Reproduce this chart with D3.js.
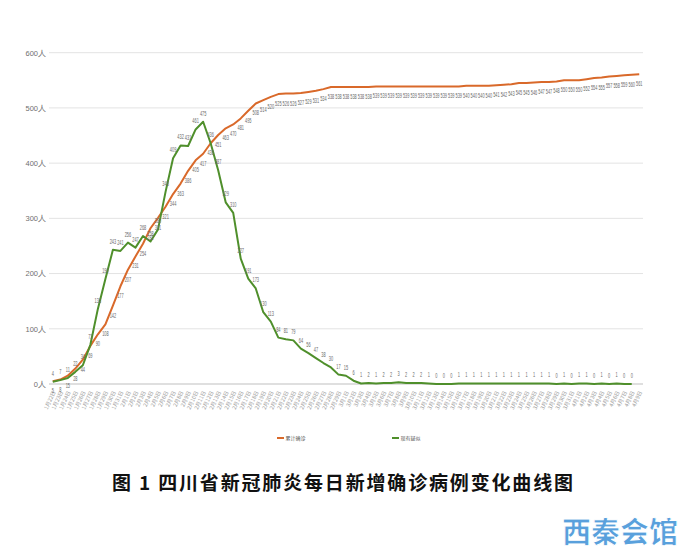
<!DOCTYPE html>
<html>
<head>
<meta charset="utf-8">
<script src="https://cdn.jsdelivr.net/npm/d3@7"></script>
<style>
  body { margin: 0; background: #fff; }
  svg { display: block; }
</style>
</head>
<body>
<svg width="690" height="553"></svg>
<script>
// dates (categories) - 1/22 to 4/9
const dates = [
  "1月22日","1月23日","1月24日","1月25日","1月26日","1月27日","1月28日","1月29日","1月30日","1月31日",
  "2月1日","2月2日","2月3日","2月4日","2月5日","2月6日","2月7日","2月8日","2月9日","2月10日",
  "2月11日","2月12日","2月13日","2月14日","2月15日","2月16日","2月17日","2月18日","2月19日","2月20日",
  "2月21日","2月22日","2月23日","2月24日","2月25日","2月26日","2月27日","2月28日","2月29日",
  "3月1日","3月2日","3月3日","3月4日","3月5日","3月6日","3月7日","3月8日","3月9日","3月10日",
  "3月11日","3月12日","3月13日","3月14日","3月15日","3月16日","3月17日","3月18日","3月19日","3月20日",
  "3月21日","3月22日","3月23日","3月24日","3月25日","3月26日","3月27日","3月28日","3月29日","3月30日","3月31日",
  "4月1日","4月2日","4月3日","4月4日","4月5日","4月6日","4月7日","4月8日","4月9日"
];

// 累计确诊
const cumulative = [
  5, 8, 15, 28, 44, 69, 90, 108, 142, 177,
  207, 231, 254, 282, 301, 321, 344, 363, 386, 405,
  417, 436, 451, 463, 470, 481, 495, 508, 514, 520,
  525, 526, 526, 527, 529, 531, 534, 538, 538,
  538, 538, 538, 538, 539, 539, 539, 539, 539, 539,
  539, 539, 539, 539, 539, 539, 540, 540, 540, 540,
  541, 542, 543, 545, 545, 546, 547, 547, 548, 550, 550,
  550, 552, 554, 555, 557, 558, 559, 560, 561
];

// 现有疑似
const suspected = [
  4, 7, 11, 22, 34, 71, 136, 190, 243, 241,
  256, 247, 268, 258, 280, 348, 409, 432, 431, 461,
  475, 436, 387, 329, 310, 227, 191, 173, 130, 113,
  84, 81, 79, 64, 56, 47, 38, 30, 17,
  15, 6, 1, 2, 1, 2, 2, 3, 2, 2,
  2, 1, 0, 0, 0, 1, 1, 1, 1, 1,
  1, 1, 1, 1, 1, 1, 1, 1, 0, 1, 0,
  1, 1, 0, 1, 0, 1, 0, 0
];

const yTicks = [0, 100, 200, 300, 400, 500, 600];

const seriesNames = ["累计确诊", "现有疑似"];
const seriesColors = ["#d9692a", "#4f8f2b"];

const titleText = "图 1 四川省新冠肺炎每日新增确诊病例变化曲线图";

/* ---------- dimensions ---------- */
const svg = d3.select("svg");
const plot = { left: 49, right: 643, top: 52.7, bottom: 384 };

const x = d3.scalePoint().domain(dates).range([plot.left, plot.right]).padding(0.5);
const y = d3.scaleLinear().domain([0, 600]).range([plot.bottom, plot.top]);

// gridlines
svg.append("g")
  .selectAll("line")
  .data(yTicks)
  .join("line")
  .attr("x1", plot.left)
  .attr("x2", plot.right)
  .attr("y1", d => y(d))
  .attr("y2", d => y(d))
  .attr("stroke", d => d === 0 ? "#bfbfbf" : "#e3e3e3")
  .attr("stroke-width", 1);

// y axis labels
const yAxis = d3.axisLeft(y).tickValues(yTicks).tickSize(0).tickPadding(3)
  .tickFormat(d => d + "人");
svg.append("g")
  .attr("transform", `translate(${plot.left},0)`)
  .call(yAxis)
  .call(g => g.select(".domain").remove())
  .call(g => g.selectAll("text")
    .attr("font-family", "'Liberation Sans Narrow', sans-serif")
    .attr("font-size", 7.5)
    .attr("fill", "#6f6f6f"));

// x axis labels (rotated)
const xAxis = d3.axisBottom(x).tickSize(0).tickPadding(0);
svg.append("g")
  .attr("transform", `translate(0,${plot.bottom})`)
  .call(xAxis)
  .call(g => g.select(".domain").remove())
  .call(g => g.selectAll("text")
    .attr("font-family", "'Noto Sans CJK SC', sans-serif")
    .attr("font-size", 5.4)
    .attr("fill", "#9a9a9a")
    .attr("text-anchor", "end")
    .attr("dy", 0)
    .attr("transform", "translate(2.5,8) rotate(-65)"));

/* ---------- lines ---------- */
const series = [
  { name: seriesNames[0], color: seriesColors[0], values: cumulative, labelDy: 12 },
  { name: seriesNames[1], color: seriesColors[1], values: suspected, labelDy: -6 }
];

const line = d3.line()
  .x((d, i) => x(dates[i]))
  .y(d => y(d));

svg.append("g")
  .selectAll("path")
  .data(series)
  .join("path")
  .attr("fill", "none")
  .attr("stroke", d => d.color)
  .attr("stroke-width", 2)
  .attr("stroke-linejoin", "round")
  .attr("d", d => line(d.values));

// data labels - narrow, squeezed like the excel export
series.forEach(s => {
  svg.append("g")
    .selectAll("text")
    .data(s.values)
    .join("text")
    .attr("transform", (d, i) => `translate(${x(dates[i])},${y(d) + s.labelDy}) scale(0.6,1)`)
    .attr("text-anchor", "middle")
    .attr("font-family", "'Liberation Sans Narrow', sans-serif")
    .attr("font-size", 6.5)
    .attr("fill", "#6b6b6b")
    .text(d => d);
});

/* ---------- legend ---------- */
const legendX = [277, 392];
const legend = svg.append("g")
  .selectAll("g")
  .data(series)
  .join("g")
  .attr("transform", (d, i) => `translate(${legendX[i]},438)`);
legend.append("line")
  .attr("x1", 0).attr("x2", 7)
  .attr("stroke", d => d.color)
  .attr("stroke-width", 2);
legend.append("text")
  .attr("x", 8.5)
  .attr("y", 2)
  .attr("font-family", "'Noto Sans CJK SC', sans-serif")
  .attr("font-size", 5)
  .attr("fill", "#595959")
  .text(d => d.name);

/* ---------- title ---------- */
svg.append("text")
  .attr("x", 112)
  .attr("y", 490)
  .attr("textLength", 461)
  .attr("lengthAdjust", "spacing")
  .attr("font-family", "'Noto Sans CJK SC', sans-serif")
  .attr("font-weight", 700)
  .attr("font-size", 19)
  .attr("fill", "#111")
  .text(titleText);

/* ---------- watermark ---------- */
svg.append("text")
  .attr("x", 562)
  .attr("y", 543)
  .attr("font-family", "'Noto Sans CJK SC', sans-serif")
  .attr("font-weight", 900)
  .attr("font-size", 29)
  .attr("fill", "#3b8fd6")
  .attr("fill-opacity", 0.85)
  .attr("stroke", "#ffffff")
  .attr("stroke-width", 1)
  .text("西秦会馆");
</script>
</body>
</html>
